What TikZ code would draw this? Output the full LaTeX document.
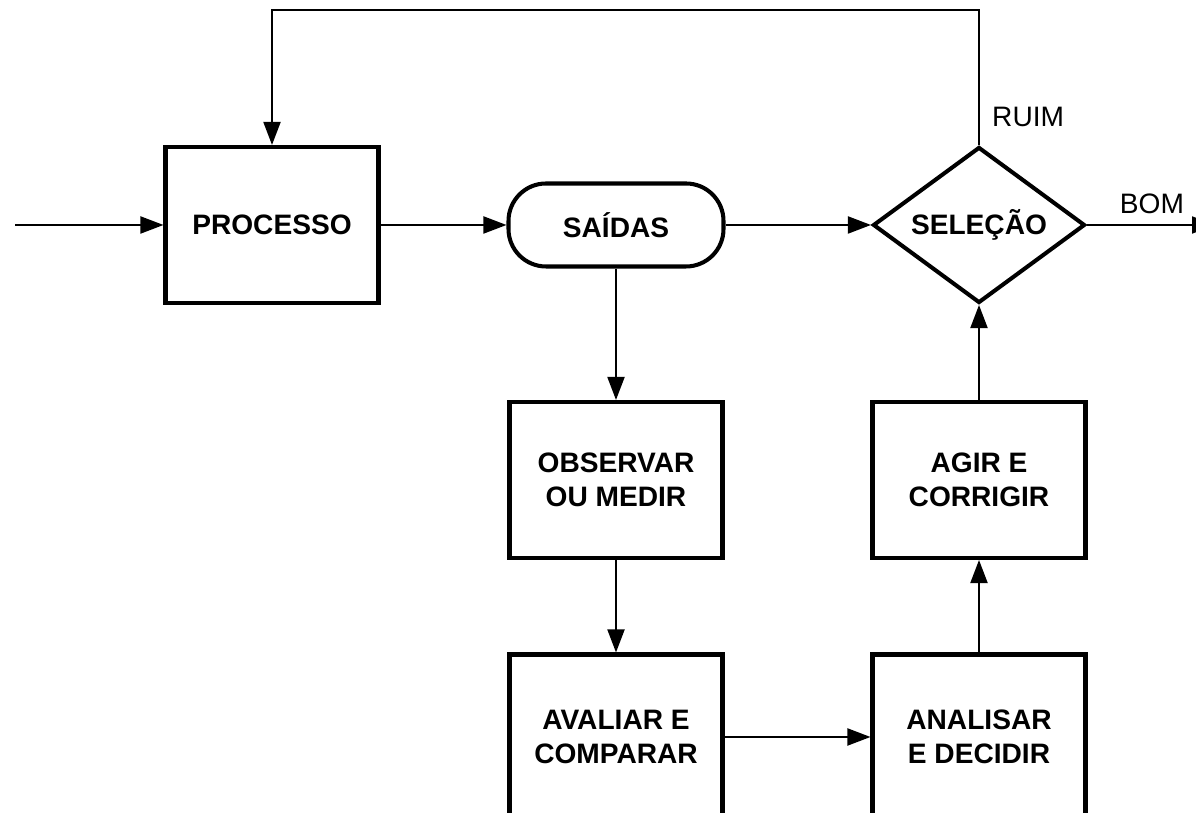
\documentclass[tikz,border=0pt]{standalone}
\usepackage{fontspec}
\setmainfont{Liberation Sans}
\usetikzlibrary{shapes.geometric,arrows.meta,positioning,calc}

\begin{document}
\begin{tikzpicture}[
		% Styles
		block/.style={rectangle, draw=black, line width=2.3pt, minimum width=4.26cm, minimum height=3.12cm, align=center, font=\fontsize{16}{19.5}\selectfont\bfseries},
		tallblock/.style={block, minimum height=3.3cm},
		output/.style={rectangle, rounded corners=0.75cm, draw=black, line width=2.3pt, minimum width=4.3cm, minimum height=1.66cm, font=\fontsize{16}{19.5}\selectfont\bfseries},
		decision/.style={diamond, aspect=1.36, draw=black, line width=2.3pt, minimum width=4.24cm, minimum height=3.12cm, inner sep=0pt, font=\fontsize{16}{19.5}\selectfont\bfseries},
		lbl/.style={font=\fontsize{16}{19}\selectfont},
		% Arrows
		flow/.style={-{Triangle[length=0.46cm, width=0.34cm]}, line width=1.1pt},
		]

		% Frame
		\useasboundingbox (0,0) rectangle (23.92,16.26);

		% Main line
		\coordinate (entry) at (0.3,11.76);
		\node[block] (proc) at (5.44,11.76) {PROCESSO};
		\node[output] (out) at (12.32,11.76) {SAÍDAS};
		\node[decision] (sel) at (19.58,11.76) {SELEÇÃO};
		\coordinate (exit) at (24.3,11.76);

		% Control loop
		\node[block] (obs) at (12.32,6.66) {OBSERVAR\\OU MEDIR};
		\node[tallblock] (aval) at (12.32,1.52) {AVALIAR E\\COMPARAR};
		\node[tallblock] (anal) at (19.58,1.52) {ANALISAR\\E DECIDIR};
		\node[block] (agir) at (19.58,6.66) {AGIR E\\CORRIGIR};

		% Labels
		\node[lbl, anchor=west] (ruim) at (19.72,13.92) {RUIM};
		\node[lbl] (bom) at (23.04,12.18) {BOM};

		% Connections
		\draw[flow] (entry) -- (proc);
		\draw[flow] (proc) -- (out);
		\draw[flow] (out) -- (sel);
		\draw[flow] (sel.east) -- (exit);
		\draw[flow] (sel.north) -- ++(0,2.7) -| (proc.north);

		\draw[flow] (out) -- (obs);
		\draw[flow] (obs) -- (aval);
		\draw[flow] (aval) -- (anal);
		\draw[flow] (anal) -- (agir);
		\draw[flow] (agir) -- (sel.south);

	\end{tikzpicture}
\end{document}
